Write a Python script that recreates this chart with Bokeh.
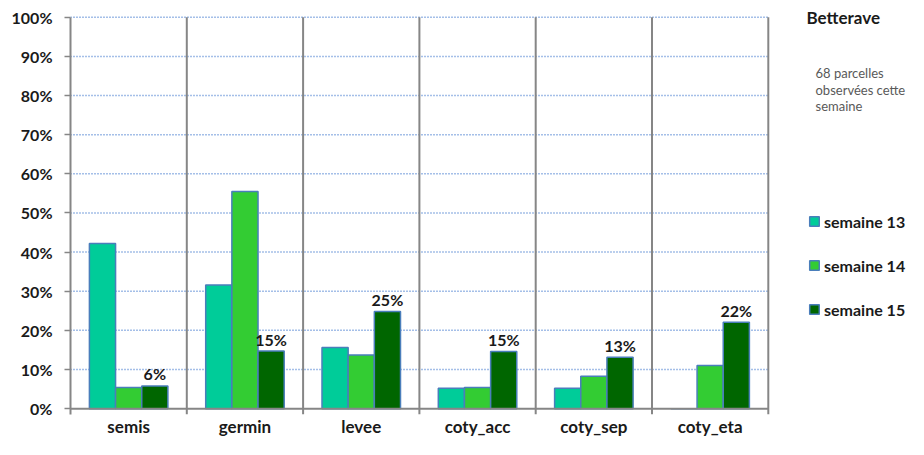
from bokeh.plotting import figure
from bokeh.models import FixedTicker, Label, Legend, LegendItem, PrintfTickFormatter
from bokeh.core.properties import value
from bokeh.embed import file_html
from bokeh.resources import INLINE

# ---- data ----
categories = ["semis", "germin", "levee", "coty_acc", "coty_sep", "coty_eta"]
series_names = ["semaine 13", "semaine 14", "semaine 15"]
semaine_13 = [42.2, 31.6, 15.6, 5.2, 5.2, 0.0]
semaine_14 = [5.4, 55.5, 13.7, 5.4, 8.3, 11.0]
semaine_15 = [5.8, 14.7, 24.8, 14.6, 13.1, 22.1]
y_ticks = [0, 10, 20, 30, 40, 50, 60, 70, 80, 90, 100]
title_text = "Betterave"
note_lines = ["68 parcelles", "observées cette", "semaine"]

# ---- style / layout ----
colors = ["#00CC99", "#33CC33", "#006600"]
outline = "#4A7EBB"
grid_blue = "#4A7FD0"
grey = "#868686"
FONT = "Lato"
TXT = "#1a1a1a"

W, H = 908, 439
FL, FB = 70, 21                 # left / bottom borders (px)
frame_w = W - FL
frame_h = H - FB
n = len(categories)
cat_px = 116.3                  # px per category
TOP_PAD = 17                    # px above the 100% line
Y0 = -1.5
px_per_unit = (frame_h - TOP_PAD) / (100 - Y0)
Y1 = 100 + TOP_PAD / px_per_unit
X1 = frame_w / cat_px

def sx(px):  # figure px -> data x
    return (px - FL) / cat_px

def sy(py):  # figure px (from top) -> data y
    return Y1 - py / px_per_unit

p = figure(width=W, height=H, x_range=(0, X1), y_range=(Y0, Y1),
           output_backend="svg", toolbar_location=None,
           min_border_left=FL, min_border_right=0,
           min_border_top=0, min_border_bottom=FB)
p.outline_line_color = None
p.xgrid.visible = False
p.ygrid.visible = False

# dotted horizontal gridlines (10%..100%) across the category area
gy = y_ticks[1:]
p.segment(x0=[0] * len(gy), x1=[n] * len(gy), y0=gy, y1=gy,
          line_color=grid_blue, line_width=1.5, line_dash="1 2")
# vertical category separators (extend below zero as tick marks)
bx = list(range(1, n + 1))
p.segment(x0=bx, x1=bx, y0=[Y0] * len(bx), y1=[100] * len(bx),
          line_color=grey, line_width=2)

bar_w = 0.225
offsets = [-bar_w, 0.0, bar_w]
series = [semaine_13, semaine_14, semaine_15]
renderers = []
for vals, col, off in zip(series, colors, offsets):
    xs = [k + 0.5 + off for k in range(n)]
    r = p.vbar(x=xs, top=vals, bottom=0, width=bar_w, fill_color=col,
               line_color=outline, line_width=1.5)
    renderers.append(r)

# zero line
p.segment(x0=[0], x1=[n], y0=[0], y1=[0], line_color=grey, line_width=2)

# labels above semaine 15
lbl_x = [k + 0.5 + offsets[2] for k in range(n)]
lbl_t = [f"{round(v)}%" for v in semaine_15]
p.text(x=lbl_x, y=semaine_15, text=lbl_t, text_align="center",
       text_baseline="alphabetic", y_offset=-12,
       text_font=value(FONT), text_font_style="bold",
       text_font_size="16px", text_color=TXT)

# y axis
ya = p.yaxis[0]
ya.bounds = (Y0, 100)
ya.ticker = FixedTicker(ticks=y_ticks)
ya.formatter = PrintfTickFormatter(format="%d%%")
ya.axis_line_color = grey
ya.axis_line_width = 2
ya.major_tick_line_color = grey
ya.major_tick_line_width = 1.5
ya.major_tick_out = 6
ya.major_tick_in = 0
ya.minor_tick_line_color = None
ya.major_label_standoff = 12
ya.major_label_text_font = FONT
ya.major_label_text_font_style = "bold"
ya.major_label_text_font_size = "16px"
ya.major_label_text_color = TXT

# x axis
xa = p.xaxis[0]
xa.ticker = FixedTicker(ticks=[k + 0.5 for k in range(n)])
xa.major_label_overrides = {k + 0.5: c for k, c in enumerate(categories)}
xa.axis_line_color = None
xa.major_tick_line_color = None
xa.minor_tick_line_color = None
xa.major_tick_out = 0
xa.major_tick_in = 0
xa.major_label_standoff = 1
xa.major_label_text_font = FONT
xa.major_label_text_font_style = "bold"
xa.major_label_text_font_size = "17px"
xa.major_label_text_color = TXT

# legend (inside the frame's right-hand area)
legend = Legend(items=[LegendItem(label=nm, renderers=[r]) for nm, r in zip(series_names, renderers)],
                location=(808 - FL, frame_h - 323), padding=0, margin=0, spacing=24,
                glyph_width=12, glyph_height=12, label_standoff=4, label_height=20,
                border_line_color=None, background_fill_alpha=0,
                label_text_font=FONT, label_text_font_style="bold",
                label_text_font_size="16px", label_text_color=TXT)
p.add_layout(legend)

# title and note
p.add_layout(Label(x=sx(806), y=sy(17), text=title_text, text_baseline="alphabetic",
                   text_font=FONT, text_font_style="bold", text_font_size="17px",
                   text_color=TXT))
for i, line in enumerate(note_lines):
    p.add_layout(Label(x=sx(815), y=sy(73 + 17 * i), text=line, text_baseline="alphabetic",
                       text_font=FONT, text_font_size="13px", text_color="#595959"))

open("out.html", "w").write(file_html(p, INLINE))
